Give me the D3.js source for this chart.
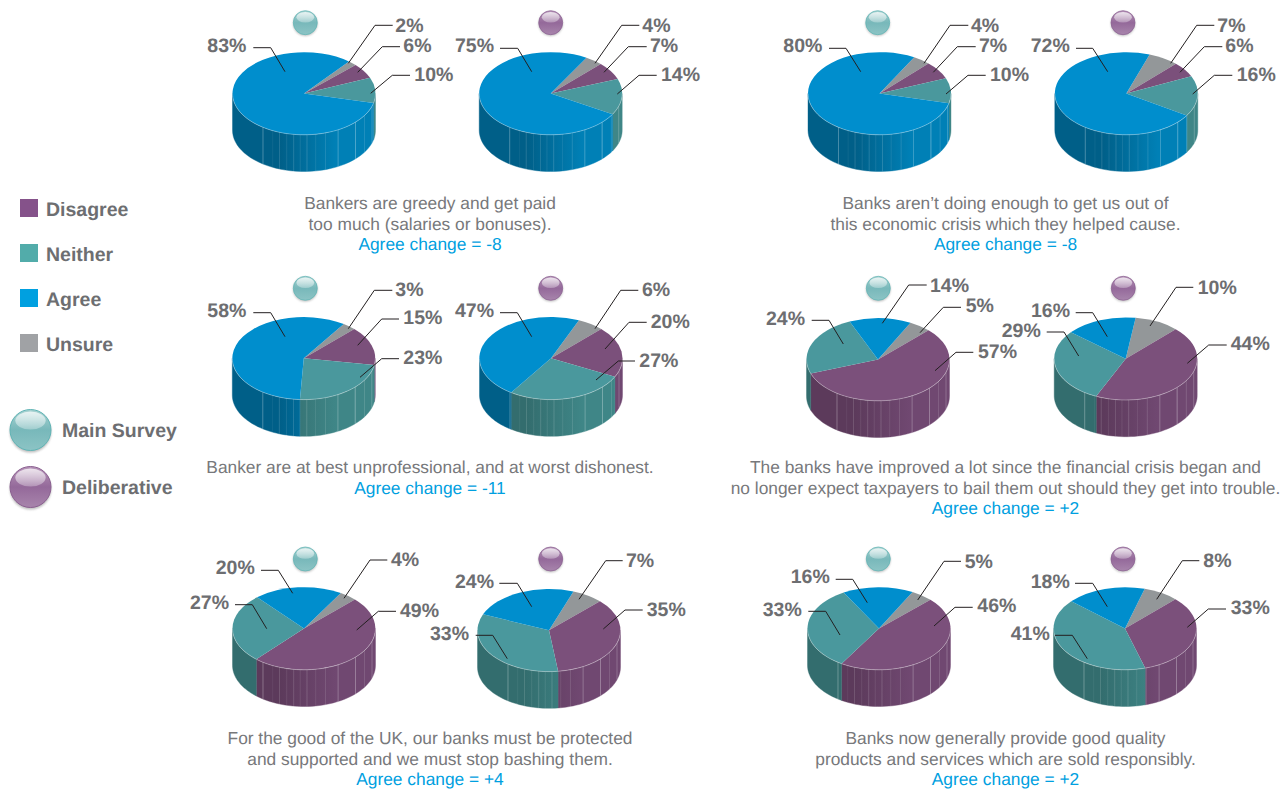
<!DOCTYPE html>
<html>
<head>
<meta charset="utf-8">
<script src="https://cdn.jsdelivr.net/npm/d3@7/dist/d3.min.js"></script>
<style>
html,body{margin:0;padding:0;background:#fff;}
svg{display:block;position:absolute;left:0;top:0;}
text{font-family:"Liberation Sans",Arial,sans-serif;text-rendering:geometricPrecision;}
</style>
</head>
<body>
<svg id="chart" width="1283" height="789"></svg>
<script>
// ---- data (one entry per pie: Main Survey, Deliberative for each of six statements)
const categories = ["Unsure","Disagree","Neither","Agree"];
const unsure   = [2,4,4,7, 3,6,5,10, 4,7,5,8];
const disagree = [6,7,7,6, 15,20,57,44, 49,35,46,33];
const neither  = [10,14,10,16, 23,27,24,29, 27,33,33,41];
const agree    = [83,75,80,72, 58,47,14,16, 20,24,16,18];
const surveys  = ["Main Survey","Deliberative"];
const legendOrder = ["Disagree","Neither","Agree","Unsure"];

const statements = [
  ["Bankers are greedy and get paid","too much (salaries or bonuses)."],
  ["Banks aren\u2019t doing enough to get us out of","this economic crisis which they helped cause."],
  ["Banker are at best unprofessional, and at worst dishonest."],
  ["The banks have improved a lot since the financial crisis began and","no longer expect taxpayers to bail them out should they get into trouble."],
  ["For the good of the UK, our banks must be protected","and supported and we must stop bashing them."],
  ["Banks now generally provide good quality","products and services which are sold responsibly."]
];
const agreeChange = ["-8","-8","-11","+2","+4","+2"];

// ---- layout (not data)
const rotationDeg = [39,30,29,19, 34,23,27,8, 31,20,28,16];
const pieCx = [304,550.7,879.5,1126.3, 303.8,551,878,1125.7, 304,549,879,1125];
const pieCy = [93.5,93.5,93.5,93.5, 358.3,358.3,359.5,358.7, 628.5,630.3,628.5,628.5];
const ballX = [305.3,550.7,877.7,1123, 305.3,550.7,878.3,1123.3, 305.3,550.7,878.3,1123];
const ballY = [22.7,22.7,22.7,22.7, 288.3,288.3,288.3,288.3, 559,559,559,559];
const rx = 71.5, ry = 41.3, depth = 36.7;
const captionX = [430,1005.5,430,1005.5,430,1005.5];
const captionY = [209,209,473,473,744,744];
const captionStep = 20.6;
// leader layout per pie, label order Agree, Unsure, Disagree, Neither:
// [textX, baseline, lineEndX, lineY, elbowX, anchorX, anchorY]
const leaders = [
 [[207.3,51.7,253.3,47.7,270.7,285,71.7],[395.3,31.7,392.7,25.3,375,348.3,63.3],[403.3,51.7,400,46.7,382.3,357.7,72.3],[414.3,81,410,75.3,392.3,370.7,93.3]],
 [[455,51.7,500,48.3,517.7,531.7,71.7],[642.3,31.7,639.3,25.3,621.7,595,63.3],[650,51.7,646.7,46.7,628.3,604,72.3],[661,81,656.7,75.3,639,617.3,94]],
 [[783.3,51.7,829,48.3,846,860.7,71.7],[971,31.7,968.3,25.3,950,924,63.3],[979,51.7,975.7,46.7,957.3,933.3,72.3],[990,81,985.7,75.3,968,946,94]],
 [[1030.7,51.7,1076,48.3,1092.7,1107.7,71.7],[1217.3,31.7,1214.3,25.3,1196.7,1170.7,63.3],[1225.3,51.7,1222.3,46.7,1204.3,1180,72.3],[1236.7,81,1232.3,75.3,1214.3,1192.7,94]],
 [[207.3,317.3,253.3,312.7,270.7,285,336.7],[395.3,296,392.3,290.3,374.3,348.3,328.7],[403.3,324,399,319,381.7,357.7,345.3],[403.3,364.3,399,358.7,381.7,360,377.3]],
 [[455,317.3,500,312.7,517.3,531.7,336.7],[642,296,638.3,290.3,620.7,595,328.7],[650.7,328.3,646.7,322.3,629,605,349],[639.3,366.7,635,361,618.3,596,380]],
 [[930,292,926.7,285,908.7,882.3,323.3],[965.7,312,961,307.3,943.3,920,332.7],[978,358,973.3,352.3,956,935,370.7],[766,325,811.7,320.3,829,843.3,344]],
 [[1031,317.3,1075.7,312.7,1092.7,1107.3,336.7],[1197.7,294,1193.3,287.3,1176,1150,326],[1230.7,350,1226.7,345,1208.7,1187.3,363.3],[1001.7,336.7,1046.7,332,1064,1078.7,356]],
 [[215.7,574,261,570.3,278.3,292.7,593.3],[391,566,387.3,560,370,344,598.3],[400,617.3,396,611.3,378.3,356.7,630],[190,609.3,235,604.7,252.3,266.7,628.7]],
 [[455,588.3,499.3,583.3,517.3,531.7,606.7],[626,567.3,622.7,560.7,605.7,579,599.3],[646.7,616,642.7,610,625,603.3,629],[430,640,475.7,635.3,492.7,507.3,658.7]],
 [[790.7,582.7,835.7,579.3,852.7,867.3,602.7],[964.7,567.7,961,561.3,944,917.7,600],[977.3,612,972.7,607.3,955,934,626],[762.7,616,808.3,611.3,825.7,840,635]],
 [[1030.7,588.3,1075,583.3,1092.7,1107.3,606.7],[1203.3,566.7,1199.3,560.7,1182.3,1156.7,599.3],[1230.7,614,1226,609,1208.3,1187.3,627.3],[1010.7,640,1055,635.3,1072.3,1087.3,658.7]]
];
const facetDeg     = [-35,-26,-20,-14,-8.3,-3,2.4,9.4,17.6,28.5,46,58,72];
const facetOpacity = [.4,.08,.2,.12,.2,.12,.22,.12,.18,.35,.45,.2,.3];

const topColor   = {Unsure:"#939799",Disagree:"#7b507b",Neither:"#4a989d",Agree:"#008ecd"};
const sideDark   = {Unsure:"#6f7274",Disagree:"#5c3a5b",Neither:"#336d6e",Agree:"#005f88"};
const sideLight  = {Unsure:"#828587",Disagree:"#704871",Neither:"#3f8687",Agree:"#0080b6"};
const legendColor= {Disagree:"#85528a",Neither:"#52acaa",Agree:"#00a0e0",Unsure:"#a0a2a5"};
const textGrey = "#6d6e71", captionGrey = "#77787b", blue = "#00a0e0";
const FONT_LABEL = 19.5, FONT_CAP = 17.35;

const svg = d3.select("#chart");
const defs = svg.append("defs");
const rad = d => d*Math.PI/180;

// ball gradients
const ballPal = [
  {id:"m", edge:"#5fb4b5", top:"#a9d3d2", mid:"#78b8ba", bot:"#8cc4c5"},
  {id:"d", edge:"#8a5f90", top:"#b795b9", mid:"#94699a", bot:"#a885ac"}
];
ballPal.forEach(p=>{
  const g = defs.append("linearGradient").attr("id","ball-"+p.id).attr("x1",0).attr("x2",0).attr("y1",0).attr("y2",1);
  [[0,p.top],[.5,p.mid],[1,p.bot]].forEach(s=>g.append("stop").attr("offset",s[0]).attr("stop-color",s[1]));
});
const hl = defs.append("linearGradient").attr("id","ball-hl").attr("x1",0).attr("x2",0).attr("y1",0).attr("y2",1);
hl.append("stop").attr("offset",0).attr("stop-color","#fff").attr("stop-opacity",.75);
hl.append("stop").attr("offset",1).attr("stop-color","#fff").attr("stop-opacity",.28);
defs.append("filter").attr("id","soft").append("feGaussianBlur").attr("stdDeviation",1);

function ball(sel,x,y,r,idx){
  const p = ballPal[idx];
  sel.append("circle").attr("cx",x).attr("cy",y+r*.09).attr("r",r*1.01).attr("fill","#888").attr("opacity",.55).attr("filter","url(#soft)");
  sel.append("circle").attr("cx",x).attr("cy",y).attr("r",r).attr("fill",`url(#ball-${p.id})`).attr("stroke",p.edge).attr("stroke-width",r>15?1:.7);
  sel.append("ellipse").attr("cx",x).attr("cy",y-r*.46).attr("rx",r*.74).attr("ry",r*.44).attr("fill","url(#ball-hl)");
}

const pieGen = d3.pie().sort(null).value(d=>d.v);
const arcGen = d3.arc().innerRadius(0).outerRadius(1);
const lineGen = d3.line();

agree.forEach((_,i)=>{
  const vals = [unsure[i],disagree[i],neither[i],agree[i]];
  const cx = pieCx[i], cy = pieCy[i];
  const X = d3.scaleLinear().domain([-1,1]).range([cx-rx,cx+rx]);
  const Y = d3.scaleLinear().domain([-1,1]).range([cy-ry,cy+ry]);
  const slices = pieGen.startAngle(rad(rotationDeg[i])).endAngle(rad(rotationDeg[i]+360))(
    categories.map((c,k)=>({c,v:vals[k]})));
  const g = svg.append("g").attr("class","pie");

  // side gradients
  categories.forEach(c=>{
    const lg = defs.append("linearGradient").attr("id",`side-${i}-${c}`)
      .attr("gradientUnits","userSpaceOnUse").attr("x1",cx-rx).attr("x2",cx+rx).attr("y1",0).attr("y2",0);
    [[0,sideDark[c]],[.33,sideDark[c]],[.72,sideLight[c]],[1,sideLight[c]]]
      .forEach(s=>lg.append("stop").attr("offset",s[0]).attr("stop-color",s[1]));
  });

  // front wall: the part of every slice that faces the viewer
  slices.forEach(s=>{
    const a0 = Math.max(s.startAngle,rad(90)), a1 = Math.min(s.endAngle,rad(270));
    if(a1<=a0) return;
    const angs = d3.range(0,41).map(k=>a0+(a1-a0)*k/40);
    const pts = angs.map(a=>[X(Math.sin(a)),Y(-Math.cos(a))])
      .concat(angs.slice().reverse().map(a=>[X(Math.sin(a)),Y(-Math.cos(a))+depth]));
    g.append("path").attr("d",lineGen(pts)+"Z").attr("fill",`url(#side-${i}-${s.data.c})`)
      .attr("stroke",`url(#side-${i}-${s.data.c})`).attr("stroke-width",.4);
  });
  // wall facets
  facetDeg.forEach((f,k)=>{
    const a = rad(180-f);
    g.append("line").attr("x1",X(Math.sin(a))).attr("x2",X(Math.sin(a)))
      .attr("y1",Y(-Math.cos(a))).attr("y2",Y(-Math.cos(a))+depth)
      .attr("stroke","#fff").attr("stroke-width",.7).attr("opacity",facetOpacity[k]);
  });
  // top face
  g.selectAll("path.top").data(slices).join("path").attr("class","top")
    .attr("transform",`translate(${cx},${cy}) scale(${rx},${ry})`)
    .attr("d",arcGen).attr("fill",d=>topColor[d.data.c]);
  // rim highlight
  const rim = d3.range(0,61).map(k=>{const a=rad(90+180*k/60);return [X(Math.sin(a)),Y(-Math.cos(a))];});
  g.append("path").attr("d",lineGen(rim)).attr("fill","none").attr("stroke","#fff").attr("stroke-width",.7).attr("opacity",.45);

  // leaders and labels
  const labelVals = [agree[i],unsure[i],disagree[i],neither[i]];
  leaders[i].forEach((L,k)=>{
    g.append("path").attr("d",lineGen([[L[2],L[3]],[L[4],L[3]],[L[5],L[6]]]))
      .attr("fill","none").attr("stroke","#231f20").attr("stroke-width",1);
    g.append("text").attr("x",L[0]).attr("y",L[1]).attr("font-size",FONT_LABEL).attr("font-weight","bold")
      .attr("fill",textGrey).text(labelVals[k]+"%");
  });
  ball(g,ballX[i],ballY[i],12,i%2);
});

// captions
statements.forEach((lines,i)=>{
  const t = svg.append("g").attr("class","caption").attr("text-anchor","middle").attr("font-size",FONT_CAP);
  lines.forEach((l,k)=>t.append("text").attr("x",captionX[i]).attr("y",captionY[i]+k*captionStep).attr("fill",captionGrey).text(l));
  t.append("text").attr("x",captionX[i]).attr("y",captionY[i]+lines.length*captionStep).attr("fill",blue)
    .text("Agree change = "+agreeChange[i]);
});

// legends
const legY = d3.scalePoint().domain(legendOrder).range([199,334]);
const leg = svg.append("g").attr("class","legend");
leg.selectAll("rect").data(legendOrder).join("rect")
  .attr("x",20).attr("y",d=>legY(d)).attr("width",18).attr("height",18).attr("fill",d=>legendColor[d]);
leg.selectAll("text.cat").data(legendOrder).join("text").attr("class","cat")
  .attr("x",46).attr("y",d=>legY(d)+17).attr("font-size",FONT_LABEL).attr("font-weight","bold").attr("fill",textGrey).text(d=>d);
surveys.forEach((s,i)=>{
  const y = [430,487][i];
  ball(leg,30.5,y,20.5,i);
  leg.append("text").attr("x",62).attr("y",y+7).attr("font-size",FONT_LABEL).attr("font-weight","bold").attr("fill",textGrey).text(s);
});
</script>
</body>
</html>
